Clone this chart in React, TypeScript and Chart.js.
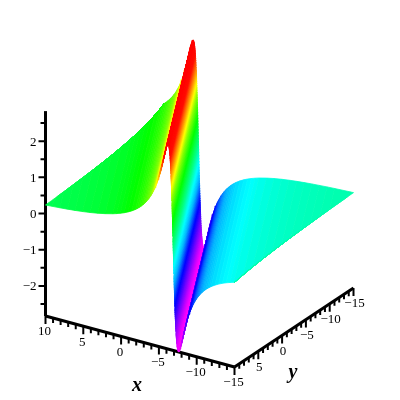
import React, { useEffect, useRef } from "react";
import { Chart, registerables } from "chart.js";

Chart.register(...registerables);

// Ridge of the surface: for each y, the x at which z crosses zero.
const stationY = [10, 8.75, 7.5, 6.25, 5, 3.75, 2.5, 1.25, 0, -1.25, -2.5, -3.75, -5, -6.25, -7.5, -8.75, -10, -11.25, -12.5, -13.75, -15];
const ridgeX = [-6.9, -6.28, -5.66, -5.04, -4.42, -3.8, -3.18, -2.56, -1.94, -1.32, -0.7, -0.08, 0.54, 1.16, 1.78, 2.4, 3.02, 3.64, 4.26, 4.88, 5.5];

// Cross-section of the surface: distance from the ridge, and |z| there.
const sectionOffset = [0, 0.01, 0.02, 0.03, 0.04, 0.05, 0.06, 0.07, 0.08, 0.09, 0.1, 0.11, 0.12, 0.13, 0.14, 0.15, 0.16, 0.17, 0.18, 0.19, 0.2, 0.21, 0.22, 0.23, 0.24, 0.25, 0.26, 0.27, 0.28, 0.29, 0.3, 0.315, 0.33, 0.345, 0.36, 0.375, 0.39, 0.405, 0.42, 0.435, 0.45, 0.465, 0.48, 0.5, 0.52, 0.54, 0.56, 0.58, 0.6, 0.65, 0.71, 0.78, 0.85, 0.92, 1, 1.05, 1.1, 1.15, 1.2, 1.25, 1.3, 1.35, 1.4, 1.45, 1.5, 1.55, 1.6, 1.65, 1.7, 1.75, 1.8, 1.9, 2, 2.1, 2.2, 2.3, 2.4, 2.5, 2.65, 2.8, 3, 3.2, 3.4, 3.6, 3.8, 4, 4.25, 4.5, 4.75, 5, 5.5, 6, 6.5, 7, 7.5, 8, 9, 10, 11, 12, 13, 14, 15, 16, 17, 18, 20, 22];
const sectionZ = [0, 0.08, 0.16, 0.24, 0.319, 0.398, 0.477, 0.555, 0.632, 0.709, 0.784, 0.859, 0.933, 1.006, 1.078, 1.148, 1.218, 1.286, 1.352, 1.418, 1.481, 1.544, 1.605, 1.664, 1.722, 1.778, 1.832, 1.885, 1.936, 1.986, 2.034, 2.103, 2.168, 2.229, 2.287, 2.341, 2.392, 2.44, 2.484, 2.525, 2.562, 2.597, 2.629, 2.667, 2.7, 2.729, 2.753, 2.774, 2.791, 2.818, 2.828, 2.815, 2.781, 2.733, 2.667, 2.621, 2.573, 2.524, 2.474, 2.424, 2.374, 2.325, 2.276, 2.229, 2.182, 2.136, 2.092, 2.048, 2.006, 1.965, 1.925, 1.849, 1.778, 1.711, 1.648, 1.589, 1.534, 1.481, 1.409, 1.343, 1.263, 1.192, 1.128, 1.07, 1.017, 0.97, 0.916, 0.867, 0.824, 0.784, 0.715, 0.658, 0.608, 0.566, 0.529, 0.496, 0.442, 0.398, 0.362, 0.332, 0.307, 0.285, 0.266, 0.25, 0.235, 0.222, 0.2, 0.182];

// Colour scale: height z and the hue shown there.
const hueAtZ = [-2.83, -1.53, -1, -0.56, 0, 0.5, 0.9, 1.3, 1.6, 2, 2.4, 2.83];
const hueValue = [300, 235, 198, 180, 150, 128, 110, 88, 62, 32, 3, 0];

const xTicks = [10, 5, 0, -5, -10, -15];
const yTicks = [5, 0, -5, -10, -15];
const zTicks = [2, 1, 0, -1, -2];
const xRange = [-15, 10];
const yRange = [-15, 10];
const zRange = [-2.83, 2.83];

type P = { x: number; y: number };

function project(x: number, y: number, z: number): P {
  const a = 10 - x;
  const b = 10 - y;
  return {
    x: 45.5 + a * 7.56 + b * 4.76,
    y: 316 + a * 2.04 - b * 3.16 - (z + 2.83) * 36.2,
  };
}

const signedOffset = [
  ...sectionOffset.slice(1).reverse().map((v) => -v),
  ...sectionOffset,
];
const signedZ = [
  ...sectionZ.slice(1).reverse().map((v) => -v),
  ...sectionZ,
];

function lookup(s: number): number {
  if (s <= signedOffset[0]) return signedZ[0];
  for (let i = 1; i < signedOffset.length; i++) {
    if (s <= signedOffset[i]) {
      const t = (s - signedOffset[i - 1]) / (signedOffset[i] - signedOffset[i - 1]);
      return signedZ[i - 1] + t * (signedZ[i] - signedZ[i - 1]);
    }
  }
  return signedZ[signedZ.length - 1];
}

function vertex(i: number, st: number): { p: P; clipped: boolean } {
  const y = stationY[st];
  const x0 = ridgeX[st];
  const raw = x0 + signedOffset[i];
  const x = Math.min(xRange[1], Math.max(xRange[0], raw));
  const clipped = x !== raw;
  const z = clipped ? lookup(x - x0) : signedZ[i];
  return { p: project(x, y, z), clipped };
}

function hue(z: number): string {
  let h = hueValue[hueValue.length - 1];
  for (let i = 1; i < hueAtZ.length; i++) {
    if (z <= hueAtZ[i]) {
      const t = (z - hueAtZ[i - 1]) / (hueAtZ[i] - hueAtZ[i - 1]);
      h = hueValue[i - 1] + t * (hueValue[i] - hueValue[i - 1]);
      break;
    }
  }
  return `hsl(${h.toFixed(1)},100%,50%)`;
}

function buildStrips() {
  const out: any[] = [];
  for (let i = 0; i < signedOffset.length - 1; i++) {
    const a: P[] = [];
    const b: P[] = [];
    let allClipped = true;
    for (let s = 0; s < stationY.length; s++) {
      const u = vertex(i, s);
      const v = vertex(i + 1, s);
      if (!(u.clipped && v.clipped)) allClipped = false;
      a.push(u.p);
      b.push(v.p);
    }
    if (allClipped) continue;
    const poly = [...a, ...b.reverse(), a[0]];
    const color = hue((signedZ[i] + signedZ[i + 1]) / 2);
    out.push({
      data: poly,
      showLine: true,
      fill: "shape",
      backgroundColor: color,
      borderColor: color,
      borderWidth: 0.8,
      borderJoinStyle: "round",
      pointRadius: 0,
      tension: 0,
      clip: false,
    });
  }
  return out;
}

const GAP = { x: NaN, y: NaN };

function lineSet(data: P[], width: number) {
  return {
    data,
    showLine: true,
    fill: false,
    borderColor: "#000",
    borderWidth: width,
    pointRadius: 0,
    tension: 0,
    clip: false,
  };
}

function buildAxes() {
  const xA = 10;
  const bottom = zRange[0];
  const major: P[] = [];
  const minor: P[] = [];
  const push = (list: P[], p: P, dx: number, dy: number) => {
    list.push({ x: p.x, y: p.y }, { x: p.x + dx, y: p.y + dy }, GAP);
  };
  for (let v = xRange[1]; v >= xRange[0]; v--) {
    const p = project(v, yRange[1], bottom);
    if (v % 5 === 0) push(major, p, 0, 8);
    else push(minor, p, 0, 5);
  }
  for (let v = yRange[1]; v >= yRange[0]; v--) {
    const p = project(xRange[0], v, bottom);
    if (v % 5 === 0) push(major, p, 0, 8);
    else push(minor, p, 0, 5);
  }
  for (let v = -2.5; v <= 2.5; v += 0.5) {
    const p = project(xA, yRange[1], v);
    if (v % 1 === 0) push(major, p, -7, 0);
    else push(minor, p, -5, 0);
  }
  return [
    lineSet([project(xA, yRange[1], bottom), project(xA, yRange[1], zRange[1])], 3),
    lineSet([project(xRange[1], yRange[1], bottom), project(xRange[0], yRange[1], bottom)], 3),
    lineSet([project(xRange[0], yRange[1], bottom), project(xRange[0], yRange[0], bottom)], 3),
    lineSet(major, 2),
    lineSet(minor, 2),
  ];
}

const textPlugin = {
  id: "axisText",
  afterDraw(chart: any) {
    const { ctx, scales } = chart;
    const put = (t: string, p: P, dx: number, dy: number, align: CanvasTextAlign = "center") => {
      ctx.textAlign = align;
      ctx.fillText(t, scales.x.getPixelForValue(p.x) + dx, scales.y.getPixelForValue(p.y) + dy);
    };
    const label = (v: number) => (v < 0 ? "\u2212" + Math.abs(v) : String(v));
    ctx.save();
    ctx.fillStyle = "#000";
    ctx.textBaseline = "middle";
    ctx.font = "13px 'Liberation Serif'";
    xTicks.forEach((v) => put(label(v), project(v, yRange[1], zRange[0]), -1, 16));
    yTicks.forEach((v) => put(label(v), project(xRange[0], v, zRange[0]), 1, 16));
    zTicks.forEach((v) => put(label(v), project(10, yRange[1], v), -9, 1, "right"));
    ctx.font = "italic bold 20px 'Liberation Serif'";
    put("x", { x: 137, y: 386 }, 0, 0);
    put("y", { x: 293, y: 373 }, 0, 0);
    ctx.restore();
  },
};

export default function App() {
  const ref = useRef<HTMLCanvasElement>(null);
  useEffect(() => {
    const chart = new Chart(ref.current as HTMLCanvasElement, {
      type: "scatter",
      data: { datasets: [...buildStrips(), ...buildAxes()] as any },
      options: {
        animation: false,
        responsive: false,
        layout: { padding: 0 },
        plugins: { legend: { display: false }, tooltip: { enabled: false }, title: { display: false } },
        scales: {
          x: { type: "linear", min: 0, max: 400, display: false },
          y: { type: "linear", min: 0, max: 400, reverse: true, display: false },
        },
      },
      plugins: [textPlugin],
    } as any);
    return () => chart.destroy();
  }, []);
  return (
    <canvas
      ref={ref}
      width={400}
      height={400}
      style={{ position: "absolute", left: 0, top: 0, width: 400, height: 400, background: "#fff" }}
    />
  );
}
